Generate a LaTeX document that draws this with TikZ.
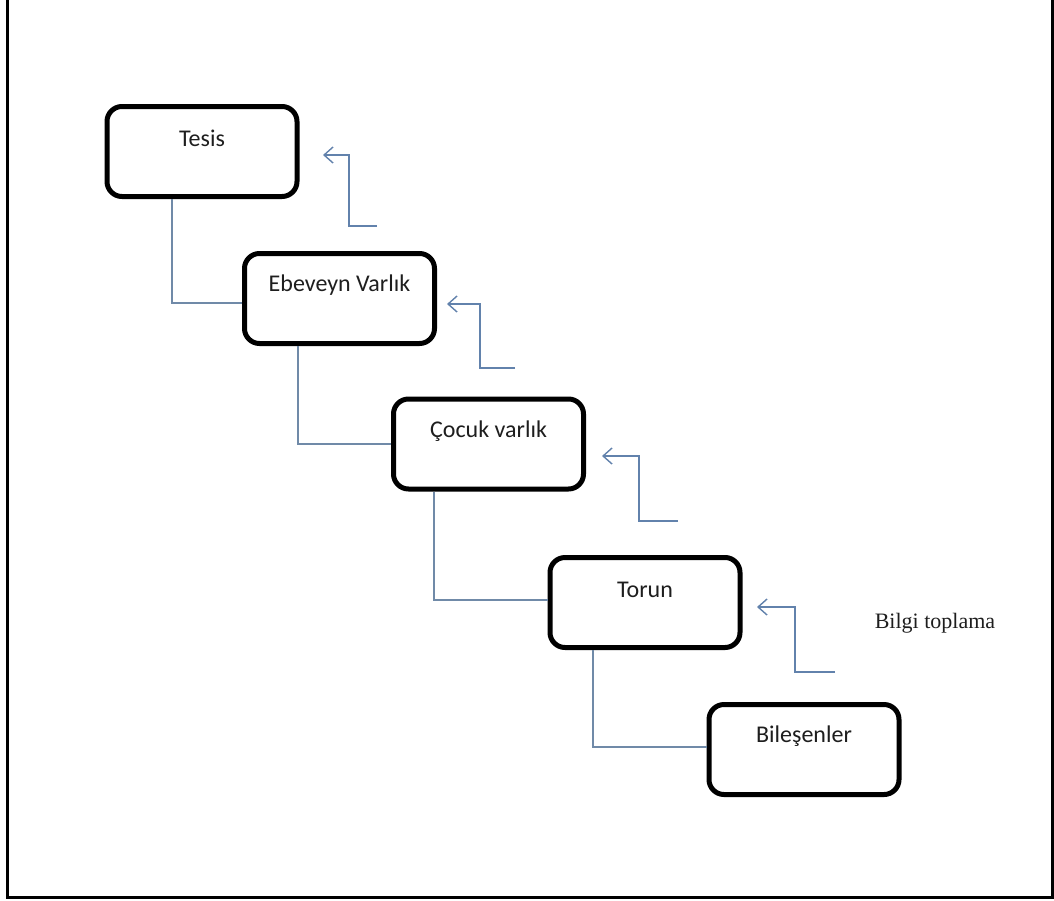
\documentclass[tikz,border=0pt]{standalone}
\usepackage{fontspec}
\setmainfont{Carlito}
\newfontfamily\notefont{Liberation Serif}
\usetikzlibrary{arrows.meta}

\definecolor{linkblue}{RGB}{112,138,168}
\definecolor{feedblue}{RGB}{98,130,172}
\definecolor{inktext}{RGB}{30,30,30}

\tikzset{
  stage/.style={draw=black, line width=5pt, rounded corners=15pt,
    minimum width=190pt, minimum height=90pt, fill=white},
  stagelbl/.style={font=\fontsize{24}{27}\selectfont, text=inktext, yshift=13pt},
  link/.style={draw=linkblue, line width=1.4pt},
  feed/.style={draw=feedblue, line width=1.4pt,
    -{Straight Barb[length=9pt,width=16pt,line width=1.4pt]}},
}

\begin{document}
\begin{tikzpicture}[x=1pt,y=-1pt]
\useasboundingbox (0,0) rectangle (1054,900);

% outer frame (open at the top)
\draw[line width=3pt] (7,0) -- (7,897) -- (1052,897) -- (1052,0);

% stages
\node[stage, label={[stagelbl]center:Tesis}] (tesis) at (202,151.5) {};
\node[stage, label={[stagelbl]center:Ebeveyn Varlık}] (ebev) at (339.5,298.5) {};
\node[stage, label={[stagelbl]center:Çocuk varlık}] (cocuk) at (488.5,444) {};
\node[stage, label={[stagelbl]center:Torun}] (torun) at (645,602.5) {};
\node[stage, label={[stagelbl]center:Bileşenler}] (bil) at (804,749.5) {};

% hierarchy links: from the bottom of each stage to the left side of the next
\draw[link] ([xshift=-30pt]tesis.south) |- ([yshift=-4.5pt]ebev.west);
\draw[link] ([xshift=-41.5pt]ebev.south) |- ([yshift=0pt]cocuk.west);
\draw[link] ([xshift=-54.5pt]cocuk.south) |- ([yshift=2.5pt]torun.west);
\draw[link] ([xshift=-52pt]torun.south) |- ([yshift=2.5pt]bil.west);

% information-gathering arrows
\coordinate (f1) at (377,226);
\coordinate (t1) at (323,155);
\coordinate (f2) at (515,368);
\coordinate (t2) at (447,304);
\coordinate (f3) at (678,521);
\coordinate (t3) at (602,456);
\coordinate (f4) at (835,672);
\coordinate (t4) at (757,607);

\draw[feed] (f1) -- ++(-28,0) |- (t1);
\draw[feed] (f2) -- ++(-35,0) |- (t2);
\draw[feed] (f3) -- ++(-39,0) |- (t3);
\draw[feed] (f4) -- ++(-40,0) |- (t4);

\node[font=\notefont\fontsize{22}{26}\selectfont, text=inktext] (note) at (935,623) {Bilgi toplama};
\end{tikzpicture}
\end{document}
